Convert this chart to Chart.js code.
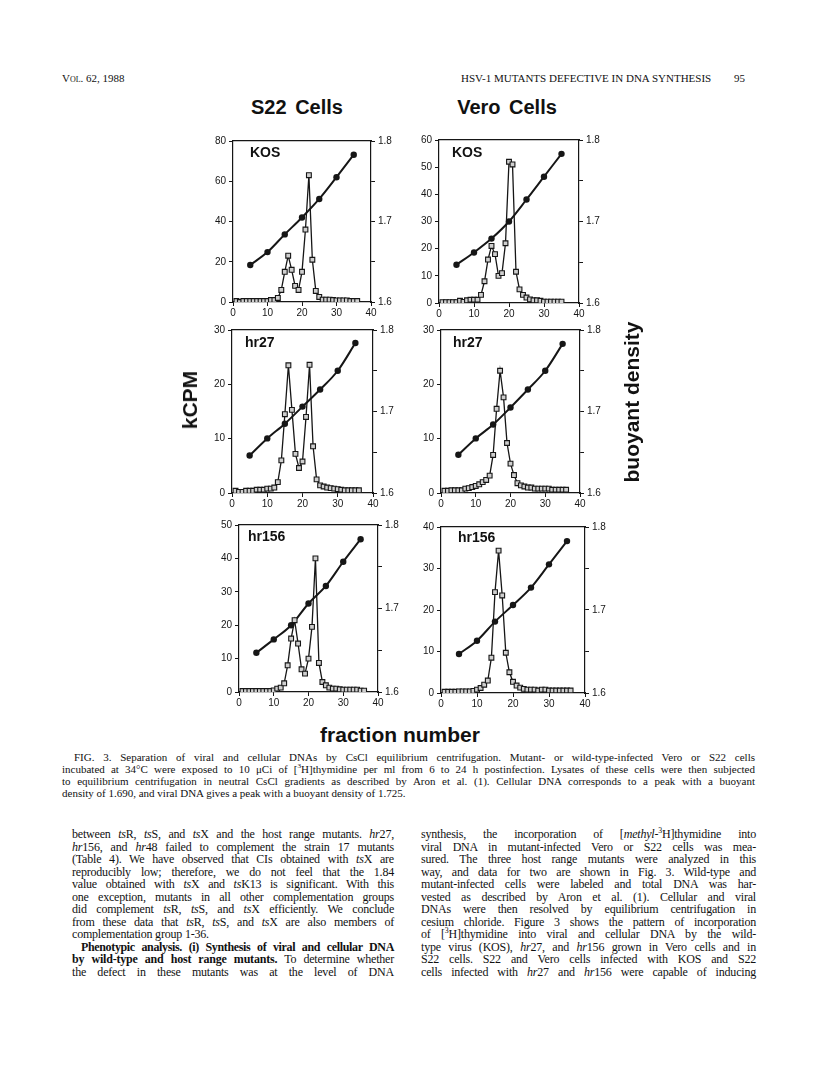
<!DOCTYPE html>
<html>
<head>
<meta charset="utf-8">
<script src="https://cdn.jsdelivr.net/npm/chart.js@4.4.0/dist/chart.umd.min.js"></script>
<style>
  html, body { margin: 0; padding: 0; background: #fff; }
  #page { position: relative; width: 816px; height: 1073px; overflow: hidden; color: #111; }
  #page canvas { position: absolute; }
  .t { position: absolute; white-space: nowrap; }
  .sans { font-family: 'Liberation Sans', Arial, sans-serif; font-weight: bold; }
  .serif { font-family: 'Liberation Serif', 'Times New Roman', serif; }
  .title { font-size: 20px; transform: translate(-50%, -50%); word-spacing: 3px; }
  .plabel { font-size: 14px; }
  .vert { font-size: 21px; transform: translate(-50%, -50%) rotate(-90deg); }
  .block { position: absolute; font-family: 'Liberation Serif', 'Times New Roman', serif; }
  .block div { white-space: nowrap; text-align: justify; text-align-last: justify; }
  .block div.last { text-align-last: left; }
  .block sup { font-size: 65%; line-height: 0; }
</style>
</head>
<body>
<div id="page">
  <div class="t serif" style="left:62px; top:72px; font-size:11px; font-variant:small-caps;">Vol. 62, 1988</div>
  <div class="t serif" style="left:461px; top:72px; font-size:11px;">HSV-1 MUTANTS DEFECTIVE IN DNA SYNTHESIS</div>
  <div class="t serif" style="left:734px; top:72px; font-size:11px;">95</div>

  <div class="t sans title" style="left:297px; top:107px;">S22 Cells</div>
  <div class="t sans title" style="left:507px; top:107px;">Vero Cells</div>

  <canvas id="c1"></canvas>
  <canvas id="c2"></canvas>
  <canvas id="c3"></canvas>
  <canvas id="c4"></canvas>
  <canvas id="c5"></canvas>
  <canvas id="c6"></canvas>

  <div class="t sans plabel" style="left:250px; top:144px;">KOS</div>
  <div class="t sans plabel" style="left:452px; top:144px;">KOS</div>
  <div class="t sans plabel" style="left:245px; top:334px;">hr27</div>
  <div class="t sans plabel" style="left:453px; top:334px;">hr27</div>
  <div class="t sans plabel" style="left:248px; top:528px;">hr156</div>
  <div class="t sans plabel" style="left:458px; top:529px;">hr156</div>

  <div class="t sans vert" style="left:190px; top:400px;">kCPM</div>
  <div class="t sans vert" style="left:632px; top:402px;">buoyant density</div>
  <div class="t sans" style="left:400px; top:735px; font-size:21px; transform:translate(-50%,-50%);">fraction number</div>

  <div class="block" style="left:62px; top:751px; width:693px; font-size:11px; line-height:12px;">
    <div style="padding-left:12px;">FIG. 3. Separation of viral and cellular DNAs by CsCl equilibrium centrifugation. Mutant- or wild-type-infected Vero or S22 cells</div>
    <div>incubated at 34°C were exposed to 10 μCi of [<sup>3</sup>H]thymidine per ml from 6 to 24 h postinfection. Lysates of these cells were then subjected</div>
    <div>to equilibrium centrifugation in neutral CsCl gradients as described by Aron et al. (1). Cellular DNA corresponds to a peak with a buoyant</div>
    <div class="last">density of 1.690, and viral DNA gives a peak with a buoyant density of 1.725.</div>
  </div>

  <div class="block" style="left:72px; top:828px; width:322px; font-size:12px; letter-spacing:-0.2px; line-height:12.5px;">
    <div>between <i>ts</i>R, <i>ts</i>S, and <i>ts</i>X and the host range mutants. <i>hr</i>27,</div>
    <div><i>hr</i>156, and <i>hr</i>48 failed to complement the strain 17 mutants</div>
    <div>(Table 4). We have observed that CIs obtained with <i>ts</i>X are</div>
    <div>reproducibly low; therefore, we do not feel that the 1.84</div>
    <div>value obtained with <i>ts</i>X and <i>ts</i>K13 is significant. With this</div>
    <div>one exception, mutants in all other complementation groups</div>
    <div>did complement <i>ts</i>R, <i>ts</i>S, and <i>ts</i>X efficiently. We conclude</div>
    <div>from these data that <i>ts</i>R, <i>ts</i>S, and <i>ts</i>X are also members of</div>
    <div class="last">complementation group 1-36.</div>
    <div style="padding-left:9px; letter-spacing:-0.35px;"><b>Phenotypic analysis. (i) Synthesis of viral and cellular DNA</b></div>
    <div><b>by wild-type and host range mutants.</b> To determine whether</div>
    <div>the defect in these mutants was at the level of DNA</div>
  </div>

  <div class="block" style="left:421px; top:828px; width:335px; font-size:12px; letter-spacing:-0.2px; line-height:12.5px;">
    <div>synthesis, the incorporation of [<i>methyl</i>-<sup>3</sup>H]thymidine into</div>
    <div>viral DNA in mutant-infected Vero or S22 cells was mea-</div>
    <div>sured. The three host range mutants were analyzed in this</div>
    <div>way, and data for two are shown in Fig. 3. Wild-type and</div>
    <div>mutant-infected cells were labeled and total DNA was har-</div>
    <div>vested as described by Aron et al. (1). Cellular and viral</div>
    <div>DNAs were then resolved by equilibrium centrifugation in</div>
    <div>cesium chloride. Figure 3 shows the pattern of incorporation</div>
    <div>of [<sup>3</sup>H]thymidine into viral and cellular DNA by the wild-</div>
    <div>type virus (KOS), <i>hr</i>27, and <i>hr</i>156 grown in Vero cells and in</div>
    <div>S22 cells. S22 and Vero cells infected with KOS and S22</div>
    <div>cells infected with <i>hr</i>27 and <i>hr</i>156 were capable of inducing</div>
  </div>
</div>

<script>
// fraction numbers along the gradient
const fractions = [1, 2, 3, 4, 5, 6, 7, 8, 9, 10, 11, 12, 13, 14, 15, 16, 17, 18,
  19, 20, 21, 22, 23, 24, 25, 26, 27, 28, 29, 30, 31, 32, 33, 34, 35, 36];
// fractions where the density was measured
const densityFractions = [5, 10, 15, 20, 25, 30, 35];

// kCPM per fraction
const s22KosCpm = [0.5, 0, 0.5, 0.5, 0.5, 0.5, 0.5, 0.5, 0.5, 0.5, 1, 1, 2, 6, 15, 23, 16, 8,
  6, 15, 36, 63, 21, 5.5, 2.5, 1.2, 1.2, 1.2, 1, 0.8, 0.8, 0.8, 0.8, 0.5, 0.5, 0.5];
const veroKosCpm = [0.3, 0.3, 0.3, 0.3, 0.3, 0.8, 0.4, 1, 1.2, 1.2, 1.2, 3, 8, 16, 21, 18, 10, 11,
  22, 52, 51, 11.5, 5, 3, 2, 1.3, 1, 1, 0.8, 0.5, 0.5, 0.5, 0.5, 0.5, 0.5];
const s22Hr27Cpm = [0.4, 0.2, 0.2, 0.4, 0.4, 0.4, 0.6, 0.6, 0.6, 0.8, 0.8, 1, 2, 6, 14.5, 23.5, 15.3, 7.2,
  4.6, 5.8, 14, 23.6, 8.6, 2.5, 1.4, 1.2, 1, 0.9, 0.8, 0.7, 0.6, 0.5, 0.5, 0.5, 0.5, 0.5];
const veroHr27Cpm = [0.4, 0.4, 0.5, 0.5, 0.5, 0.5, 0.8, 0.9, 1.1, 1.3, 1.6, 2, 2.4, 3.2, 7, 15.5, 22.5, 17.6,
  9.2, 5.4, 3.3, 1.8, 1.4, 1.2, 1, 1, 0.8, 0.8, 0.8, 0.8, 0.8, 0.6, 0.6, 0.6, 0.6, 0.6];
const s22Hr156Cpm = [0.3, 0.3, 0.3, 0.3, 0.3, 0.3, 0.3, 0.3, 0.3, 0.5, 1, 1.3, 2.6, 8, 16, 21.5, 14.5, 6.8,
  5.5, 10, 19.5, 40, 8.7, 3, 2, 1.3, 1, 1, 0.8, 0.7, 0.7, 0.7, 0.7, 0.7, 0.4, 0.4];
const veroHr156Cpm = [0.3, 0.3, 0.3, 0.3, 0.4, 0.4, 0.4, 0.4, 0.5, 0.8, 1.2, 2, 3, 8.5, 24.3, 34.3, 23.5, 9.7,
  5, 2.7, 1.8, 1.3, 1, 0.8, 0.8, 0.8, 0.6, 0.8, 0.8, 0.6, 0.6, 0.6, 0.6, 0.6, 0.6, 0.6];

// buoyant density (g/ml) at densityFractions
const s22KosDensity = [1.646, 1.662, 1.684, 1.705, 1.728, 1.755, 1.783];
const veroKosDensity = [1.647, 1.662, 1.679, 1.700, 1.727, 1.755, 1.783];
const s22Hr27Density = [1.646, 1.667, 1.685, 1.706, 1.727, 1.750, 1.784];
const veroHr27Density = [1.647, 1.667, 1.684, 1.705, 1.727, 1.750, 1.783];
const s22Hr156Density = [1.647, 1.663, 1.680, 1.706, 1.727, 1.756, 1.783];
const veroHr156Density = [1.647, 1.663, 1.686, 1.706, 1.727, 1.755, 1.783];

// axis ranges
const xTicks = [0, 10, 20, 30, 40];
const cpmMax = [80, 60, 30, 30, 50, 40];
const cpmStep = [20, 10, 10, 10, 10, 10];
const densityMin = 1.6;
const densityMax = 1.8;

const INK = '#161616';
const LEFT_W = 36, RIGHT_W = 34, TOP_PAD = 8, BOTTOM_H = 20;

// plot boxes on the page: left, top, right, bottom
const panels = [
  { id: 'c1', box: [233, 140, 371, 302], cpm: s22KosCpm, density: s22KosDensity },
  { id: 'c2', box: [439, 139, 579, 303], cpm: veroKosCpm, density: veroKosDensity },
  { id: 'c3', box: [232, 329, 373, 493], cpm: s22Hr27Cpm, density: s22Hr27Density },
  { id: 'c4', box: [441, 329, 580, 493], cpm: veroHr27Cpm, density: veroHr27Density },
  { id: 'c5', box: [239, 524, 378, 692], cpm: s22Hr156Cpm, density: s22Hr156Density },
  { id: 'c6', box: [441, 526, 585, 693], cpm: veroHr156Cpm, density: veroHr156Density }
];

panels.forEach(drawPanel);

function drawPanel(p, i) {
  let [l, t, r, b] = p.box;
  let canvas = document.getElementById(p.id);
  let w = (r - l) + LEFT_W + RIGHT_W;
  let h = (b - t) + TOP_PAD + BOTTOM_H;
  canvas.width = w;
  canvas.height = h;
  canvas.style.left = (l - LEFT_W) + 'px';
  canvas.style.top = (t - TOP_PAD) + 'px';

  let cpmPoints = p.cpm.map((v, k) => ({ x: fractions[k], y: v }));
  let densityPoints = p.density.map((v, k) => ({ x: densityFractions[k], y: v }));
  let tickFont = { family: "'Liberation Sans', Arial, sans-serif", size: 10 };

  new Chart(canvas.getContext('2d'), {
    type: 'line',
    data: {
      datasets: [
        {
          label: 'kCPM',
          data: cpmPoints,
          yAxisID: 'y',
          borderColor: INK,
          borderWidth: 1.3,
          pointStyle: 'rect',
          pointRadius: 3.4,
          pointBorderWidth: 1.1,
          pointBorderColor: INK,
          pointBackgroundColor: '#cfcfcf',
          tension: 0
        },
        {
          label: 'buoyant density',
          data: densityPoints,
          yAxisID: 'y2',
          borderColor: INK,
          borderWidth: 2,
          pointStyle: 'circle',
          pointRadius: 3.2,
          pointBorderWidth: 0,
          pointBackgroundColor: INK,
          cubicInterpolationMode: 'monotone'
        }
      ]
    },
    options: {
      responsive: false,
      animation: false,
      devicePixelRatio: 1,
      layout: { padding: { top: TOP_PAD, left: 0, right: 0, bottom: 0 } },
      plugins: { legend: { display: false }, tooltip: { enabled: false } },
      scales: {
        x: {
          type: 'linear', position: 'bottom', min: 0, max: 40,
          afterBuildTicks: (s) => { s.ticks = xTicks.map(v => ({ value: v })); },
          ticks: { color: INK, font: tickFont, padding: 1, maxRotation: 0, autoSkip: false },
          grid: { drawOnChartArea: false, tickLength: 4, color: INK, lineWidth: 1 },
          border: { color: INK, width: 1.2 },
          afterFit: (s) => { s.height = BOTTOM_H; }
        },
        xTop: {
          type: 'linear', position: 'top', min: 0, max: 40,
          ticks: { display: false },
          grid: { display: false },
          border: { color: INK, width: 1.2 },
          afterFit: (s) => { s.height = 0; }
        },
        y: {
          type: 'linear', position: 'left', min: 0, max: cpmMax[i],
          ticks: { stepSize: cpmStep[i], color: INK, font: tickFont, padding: 3 },
          grid: { drawOnChartArea: false, tickLength: 4, color: INK, lineWidth: 1 },
          border: { color: INK, width: 1.2 },
          afterFit: (s) => { s.width = LEFT_W; }
        },
        y2: {
          type: 'linear', position: 'right', min: densityMin, max: densityMax,
          ticks: {
            stepSize: 0.05, color: INK, font: tickFont, padding: 3,
            callback: (v) => Math.round(v * 100) % 10 === 0 ? v.toFixed(1) : ''
          },
          grid: { drawOnChartArea: false, tickLength: 4, color: INK, lineWidth: 1 },
          border: { color: INK, width: 1.2 },
          afterFit: (s) => { s.width = RIGHT_W; }
        }
      }
    }
  });
}
</script>
</body>
</html>
